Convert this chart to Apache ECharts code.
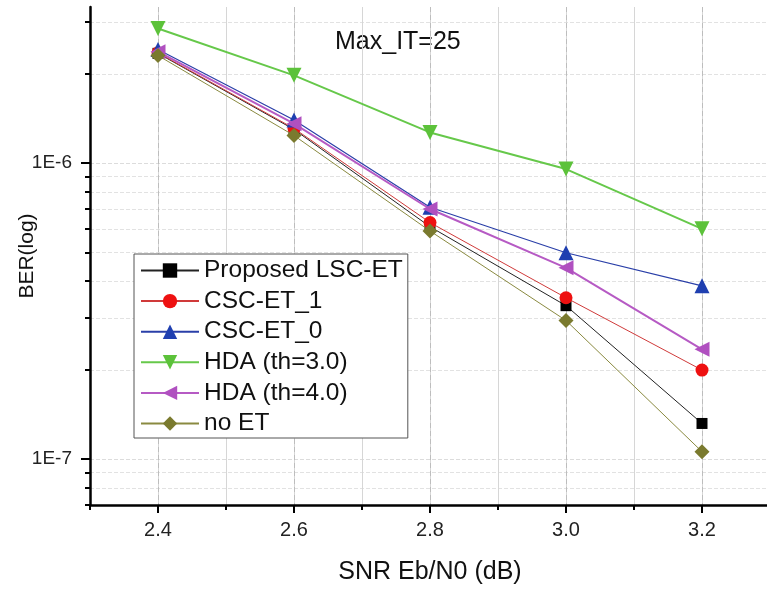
<!DOCTYPE html>
<html><head><meta charset="utf-8">
<script src="https://cdn.jsdelivr.net/npm/echarts@6/dist/echarts.min.js"></script>
<style>html,body{margin:0;padding:0;background:#fff}#c{width:767px;height:589px}</style>
</head><body><div id="c"></div>
<script>
const snr = [2.4, 2.6, 2.8, 3.0, 3.2];
const proposedLSC = [2.35e-6, 1.30e-6, 6.1e-7, 3.30e-7, 1.32e-7];
const cscEt1 = [2.36e-6, 1.31e-6, 6.3e-7, 3.51e-7, 2.0e-7];
const cscEt0 = [2.42e-6, 1.40e-6, 7.1e-7, 4.98e-7, 3.85e-7];
const hda30 = [2.85e-6, 1.98e-6, 1.27e-6, 9.55e-7, 6.0e-7];
const hda40 = [2.38e-6, 1.36e-6, 7.0e-7, 4.43e-7, 2.35e-7];
const noEt = [2.31e-6, 1.24e-6, 5.9e-7, 2.94e-7, 1.06e-7];
const seriesNames = ['Proposed LSC-ET', 'CSC-ET_1', 'CSC-ET_0', 'HDA (th=3.0)', 'HDA (th=4.0)', 'no ET'];
const yMajorTicks = [1e-7, 1e-6];
const yMinorTicks = [7e-8, 8e-8, 9e-8, 2e-7, 3e-7, 4e-7, 5e-7, 6e-7, 7e-7, 8e-7, 9e-7, 2e-6, 3e-6];
const xMajorTicks = [2.4, 2.6, 2.8, 3.0, 3.2];
const annotation = 'Max_IT=25';

const FONT = '"Liberation Sans", Arial, sans-serif';
const pairs = arr => snr.map((x, i) => [x, arr[i]]);
const yMin = 7e-8, yMax = 3.37e-6;

const styles = [
  {data: proposedLSC, color: '#000000', lineColor: '#222222', symbol: 'rect', size: 11, rot: 0, w: 1},
  {data: cscEt1, color: '#ee1111', lineColor: '#d03a3a', symbol: 'circle', size: 13, rot: 0, w: 1},
  {data: cscEt0, color: '#1f3fb0', lineColor: '#2a3fa8', symbol: 'triangle', size: 15, rot: 0, w: 1.2},
  {data: hda30, color: '#5cc23a', lineColor: '#66c84a', symbol: 'triangle', size: 15, rot: 180, w: 2},
  {data: hda40, color: '#b050c0', lineColor: '#b65ac4', symbol: 'triangle', size: 15, rot: 90, w: 2},
  {data: noEt, color: '#7a7a2e', lineColor: '#8a8a40', symbol: 'diamond', size: 15, rot: 0, w: 1}
];

const chart = echarts.init(document.getElementById('c'));
chart.setOption({
  animation: false,
  backgroundColor: '#fff',
  textStyle: {fontFamily: FONT},
  grid: {left: 90, top: 7, right: -3, bottom: 84, containLabel: false, outerBoundsMode: 'none'},
  graphic: [{type: 'text', left: 335, top: 30, style: {text: annotation, font: '25px ' + FONT, fill: '#111'}}],
  legend: {
    orient: 'vertical', left: 134, top: 254,
    padding: [4, 5, 2, 6],
    itemGap: 5.6, itemWidth: 58, itemHeight: 18,
    backgroundColor: '#fff', borderColor: '#555', borderWidth: 1,
    textStyle: {fontSize: 24.5, color: '#111', fontFamily: FONT},
    data: seriesNames
  },
  xAxis: [{
    type: 'value', min: 2.3, max: 3.3, interval: 0.1, position: 'bottom',
    axisLine: {lineStyle: {color: '#000', width: 2.5}, onZero: false},
    axisTick: {show: true, length: 5, lineStyle: {color: '#000', width: 2}},
    axisLabel: {show: false},
    splitLine: {show: true, lineStyle: {color: '#d6d6d6', width: 1}}
  }, {
    type: 'value', min: 2.3, max: 3.3, position: 'bottom',
    axisLine: {show: false, onZero: false},
    axisTick: {show: true, length: 8, customValues: xMajorTicks, lineStyle: {color: '#000', width: 2}},
    axisLabel: {show: true, customValues: xMajorTicks, margin: 15, fontSize: 20, color: '#222', fontFamily: FONT,
      formatter: v => v.toFixed(1)},
    splitLine: {show: true, lineStyle: {color: '#bdbdbd', width: 1, type: [5, 3]}},
    name: 'SNR Eb/N0 (dB)', nameLocation: 'middle', nameGap: 55, nameMoveOverlap: false,
    nameTextStyle: {fontSize: 25, color: '#111', fontFamily: FONT}
  }],
  yAxis: [{
    type: 'log', logBase: 10, min: yMin, max: yMax, position: 'left',
    axisLine: {show: true, lineStyle: {color: '#000', width: 2.5}, onZero: false},
    axisTick: {show: true, length: 5, customValues: yMinorTicks, lineStyle: {color: '#000', width: 2}},
    axisLabel: {show: false},
    splitLine: {show: true, lineStyle: {color: '#e2e2e2', width: 1, type: [4, 2]}}
  }, {
    type: 'log', logBase: 10, min: yMin, max: yMax, position: 'left',
    axisLine: {show: false, onZero: false},
    axisTick: {show: true, length: 9, customValues: yMajorTicks, lineStyle: {color: '#000', width: 2}},
    axisLabel: {show: true, customValues: yMajorTicks, margin: 18, fontSize: 19, color: '#222', fontFamily: FONT,
      formatter: v => '1E' + Math.round(Math.log10(v))},
    splitLine: {show: true, lineStyle: {color: '#dcdcdc', width: 1, type: [4, 2]}},
    name: 'BER(log)', nameLocation: 'middle', nameGap: 52, nameMoveOverlap: false,
    nameTextStyle: {fontSize: 21, color: '#111', fontFamily: FONT}
  }],
  series: styles.map((s, i) => ({
    name: seriesNames[i], type: 'line', xAxisIndex: 0, yAxisIndex: 0,
    data: pairs(s.data),
    symbol: s.symbol, symbolSize: s.size, symbolRotate: s.rot,
    showAllSymbol: true,
    itemStyle: {color: s.color},
    lineStyle: {color: s.lineColor, width: s.w},
    z: 3 + i
  }))
});
</script></body></html>
